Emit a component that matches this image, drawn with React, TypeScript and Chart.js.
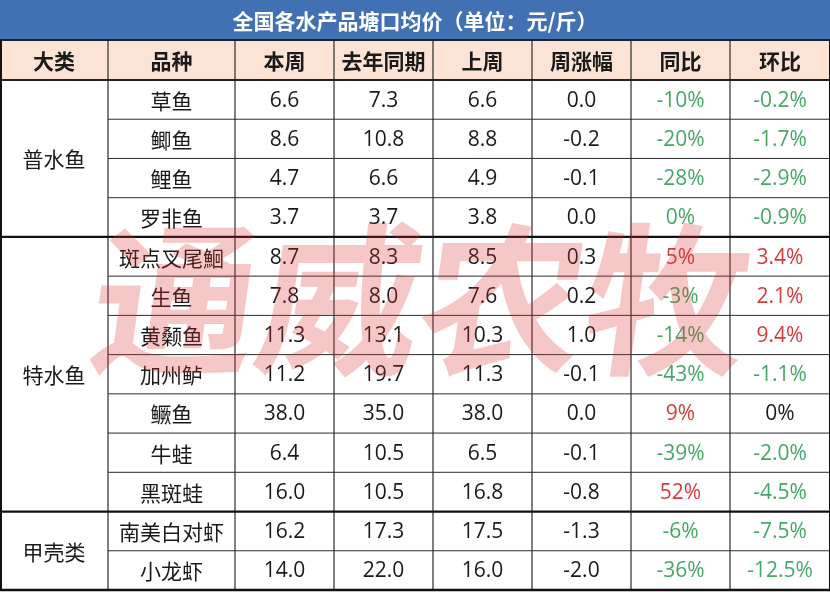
import React, { useEffect, useRef } from "react";
import { Chart, registerables } from "chart.js";

Chart.register(...registerables);

const title = "全国各水产品塘口均价（单位：元/斤）";
const columns = ["大类", "品种", "本周", "去年同期", "上周", "周涨幅", "同比", "环比"];
const groups = ["普水鱼", "特水鱼", "甲壳类"];
const groupSizes = [4, 7, 2];
const species = ["草鱼", "鲫鱼", "鲤鱼", "罗非鱼", "斑点叉尾鮰", "生鱼", "黄颡鱼", "加州鲈", "鳜鱼", "牛蛙", "黑斑蛙", "南美白对虾", "小龙虾"];
const thisWeek = [6.6, 8.6, 4.7, 3.7, 8.7, 7.8, 11.3, 11.2, 38.0, 6.4, 16.0, 16.2, 14.0];
const lastYear = [7.3, 10.8, 6.6, 3.7, 8.3, 8.0, 13.1, 19.7, 35.0, 10.5, 10.5, 17.3, 22.0];
const lastWeek = [6.6, 8.8, 4.9, 3.8, 8.5, 7.6, 10.3, 11.3, 38.0, 6.5, 16.8, 17.5, 16.0];
const weekChange = [0.0, -0.2, -0.1, 0.0, 0.3, 0.2, 1.0, -0.1, 0.0, -0.1, -0.8, -1.3, -2.0];
const yoyPct = [-10, -20, -28, 0, 5, -3, -14, -43, 9, -39, 52, -6, -36];
const momPct = [-0.2, -1.7, -2.9, -0.9, 3.4, 2.1, 9.4, -1.1, 0, -2.0, -4.5, -7.5, -12.5];
const watermark = "通威农牧";

// layout (scale units = pixels)
const W = 830;
const H = 592;
const colEdges = [0, 108, 235, 334, 433, 532, 631, 730, 830];
const titleH = 40;
const headerBottom = 80;
const tableBottom = 590;

const FONT = '"Noto Sans CJK SC", "Noto Sans", sans-serif';
const NUMFONT = '"Open Sans", "Noto Sans CJK SC", sans-serif';
const GREEN = "#46a866";
const RED = "#d63b3b";
const BLACK = "#1a1a1a";

export default function App() {
  const ref = useRef<HTMLCanvasElement | null>(null);

  useEffect(() => {
    document.body.style.margin = "0";
    let chart: Chart | null = null;
    let cancelled = false;

    const n = species.length;
    const rowH = (tableBottom - headerBottom) / n;
    const rowTop = (i: number) => headerBottom + i * rowH;

    const numericCols = [thisWeek, lastYear, lastWeek, weekChange];

    const create = () => {
      if (cancelled || !ref.current) return;
      const datasets = numericCols.map((arr, c) => ({
        label: columns[c + 2],
        data: arr.map((_, i) => ({ x: (colEdges[c + 2] + colEdges[c + 3]) / 2, y: rowTop(i) + rowH / 2 })),
        pointRadius: 0,
        showLine: false,
      }));

      const tablePlugin = {
        id: "table",
        beforeDatasetsDraw(ch: any) {
          const ctx = ch.ctx as CanvasRenderingContext2D;
          const xs = ch.scales.x;
          const ys = ch.scales.y;
          const X = (v: number) => xs.getPixelForValue(v);
          const Y = (v: number) => ys.getPixelForValue(v);

          ctx.save();
          ctx.fillStyle = "#ffffff";
          ctx.fillRect(X(0), Y(0), X(W) - X(0), Y(H) - Y(0));
          // title bar
          ctx.fillStyle = "#4271b3";
          ctx.fillRect(X(0), Y(0), X(W) - X(0), Y(titleH) - Y(0));
          // header
          ctx.fillStyle = "#fbe4d5";
          ctx.fillRect(X(0), Y(titleH), X(W) - X(0), Y(headerBottom) - Y(titleH));

          ctx.textAlign = "center";
          ctx.textBaseline = "middle";
          ctx.fillStyle = "#ffffff";
          ctx.font = `bold 21px ${FONT}`;
          ctx.fillText(title, X(W / 2), Y(titleH / 2) + 1);

          ctx.fillStyle = BLACK;
          ctx.font = `bold 21px ${FONT}`;
          columns.forEach((c, k) => {
            ctx.fillText(c, X((colEdges[k] + colEdges[k + 1]) / 2), Y((titleH + headerBottom) / 2) + 1);
          });

          // body text
          ctx.font = `21px ${FONT}`;
          let start = 0;
          groups.forEach((g, gi) => {
            const top = rowTop(start);
            const bot = rowTop(start + groupSizes[gi]);
            ctx.fillStyle = BLACK;
            ctx.fillText(g, X((colEdges[0] + colEdges[1]) / 2), Y((top + bot) / 2) + 1);
            start += groupSizes[gi];
          });
          species.forEach((s, i) => {
            const cy = Y(rowTop(i) + rowH / 2) + 1;
            ctx.fillStyle = BLACK;
            ctx.font = `21px ${FONT}`;
            ctx.fillText(s, X((colEdges[1] + colEdges[2]) / 2), cy);
            ctx.font = `21px ${NUMFONT}`;
            numericCols.forEach((arr, c) => {
              ctx.fillText(arr[i].toFixed(1), X((colEdges[c + 2] + colEdges[c + 3]) / 2), cy);
            });
            const y = yoyPct[i];
            ctx.fillStyle = y > 0 ? RED : GREEN;
            ctx.fillText(`${y}%`, X((colEdges[6] + colEdges[7]) / 2), cy);
            const m = momPct[i];
            ctx.fillStyle = m > 0 ? RED : m < 0 ? GREEN : BLACK;
            ctx.fillText(m === 0 ? "0%" : `${m.toFixed(1)}%`, X((colEdges[7] + colEdges[8]) / 2), cy);
          });

          // lines
          const hline = (yv: number, x0: number, x1: number, w: number, col: string) => {
            ctx.beginPath();
            ctx.lineWidth = w;
            ctx.strokeStyle = col;
            ctx.moveTo(X(x0), Y(yv));
            ctx.lineTo(X(x1), Y(yv));
            ctx.stroke();
          };
          const vline = (xv: number, y0: number, y1: number, w: number, col: string) => {
            ctx.beginPath();
            ctx.lineWidth = w;
            ctx.strokeStyle = col;
            ctx.moveTo(X(xv), Y(y0));
            ctx.lineTo(X(xv), Y(y1));
            ctx.stroke();
          };
          const thin = "#2a2a2a";
          const groupStarts = new Set<number>();
          let acc = 0;
          groupSizes.forEach((s) => {
            groupStarts.add(acc);
            acc += s;
          });
          for (let i = 1; i < n; i++) {
            if (groupStarts.has(i)) continue;
            hline(rowTop(i), colEdges[1], W, 1, thin);
          }
          for (let k = 1; k < colEdges.length - 1; k++) {
            vline(colEdges[k], titleH, tableBottom, 1.2, thin);
          }
          groupStarts.forEach((i) => {
            if (i > 0) hline(rowTop(i), 0, W, 2.2, "#111");
          });
          hline(titleH, 0, W, 2, "#222");
          hline(headerBottom, 0, W, 2, "#222");
          hline(tableBottom, 0, W, 2.5, "#111");
          vline(1, titleH, tableBottom, 2, "#111");
          vline(W - 0.5, titleH, tableBottom, 1, "#111");
          ctx.restore();
        },
        afterDraw(ch: any) {
          const ctx = ch.ctx as CanvasRenderingContext2D;
          const xs = ch.scales.x;
          const ys = ch.scales.y;
          ctx.save();
          ctx.translate(xs.getPixelForValue(422), ys.getPixelForValue(300));
          ctx.transform(1, 0, -0.14, 1, 0, 0);
          ctx.font = `bold 164px ${FONT}`;
          ctx.textAlign = "center";
          ctx.textBaseline = "middle";
          ctx.fillStyle = "rgba(222, 48, 48, 0.27)";
          ctx.fillText(watermark, 0, 0);
          ctx.restore();
        },
      };

      chart = new Chart(ref.current, {
        type: "scatter",
        data: { datasets },
        options: {
          animation: false,
          responsive: false,
          devicePixelRatio: window.devicePixelRatio || 1,
          layout: { padding: 0 },
          plugins: { legend: { display: false }, tooltip: { enabled: false } },
          scales: {
            x: { type: "linear", min: 0, max: W, display: false },
            y: { type: "linear", min: 0, max: H, reverse: true, display: false },
          },
        },
        plugins: [tablePlugin],
      });
    };

    const fontsAny = (document as any).fonts;
    if (fontsAny && fontsAny.load) {
      Promise.all([
        fontsAny.load(`21px ${FONT}`, "全国"),
        fontsAny.load(`bold 21px ${FONT}`, "全国"),
        fontsAny.load(`21px ${NUMFONT}`, "0123456789.%-"),
        fontsAny.load(`bold 164px ${FONT}`, "通威"),
      ])
        .catch(() => {})
        .then(create);
    } else {
      create();
    }

    return () => {
      cancelled = true;
      if (chart) chart.destroy();
    };
  }, []);

  return (
    <div style={{ width: W, height: H }}>
      <canvas ref={ref} width={W} height={H} style={{ display: "block", width: W, height: H }} />
    </div>
  );
}
